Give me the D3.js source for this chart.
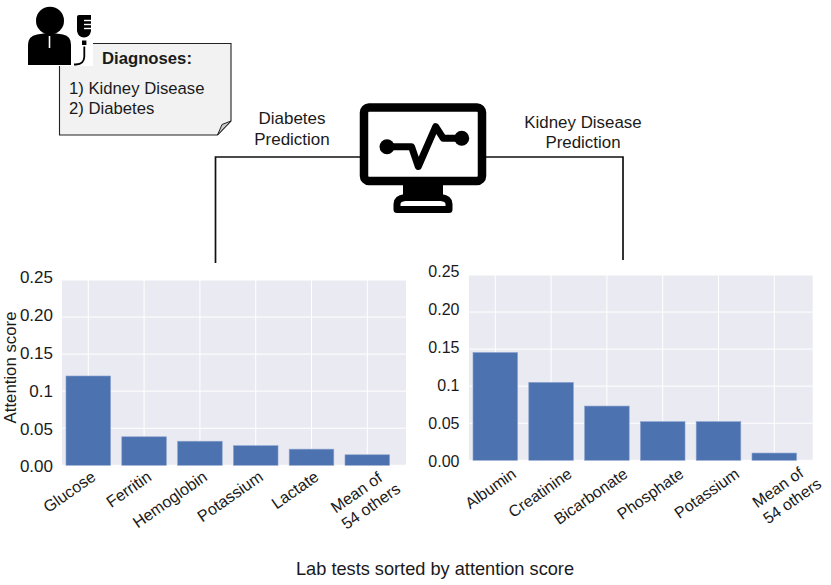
<!DOCTYPE html>
<html>
<head>
<meta charset="utf-8">
<script src="https://cdn.jsdelivr.net/npm/d3@7"></script>
<style>
body { margin: 0; background: #fff; }
svg { display: block; }
text { font-family: "Liberation Sans", Arial, sans-serif; fill: #1a1a1a; }
</style>
</head>
<body>
<svg width="831" height="585"></svg>
<script>
const tickValues = [0, 0.05, 0.1, 0.15, 0.2, 0.25];
const tickLabels = ['0.00', '0.05', '0.1', '0.15', '0.20', '0.25'];

const diabetesTests = ['Glucose', 'Ferritin', 'Hemoglobin', 'Potassium', 'Lactate', 'Mean of|54 others'];
const diabetesScores = [0.1205, 0.0385, 0.0325, 0.0265, 0.0218, 0.0142];

const kidneyTests = ['Albumin', 'Creatinine', 'Bicarbonate', 'Phosphate', 'Potassium', 'Mean of|54 others'];
const kidneyScores = [0.1455, 0.1052, 0.0732, 0.0522, 0.0522, 0.0098];

const svg = d3.select('svg');

// one bar panel, seaborn look
function drawPanel(opts, names, scores) {
	const x = d3.scaleBand()
		.domain(names)
		.range([opts.firstBand, opts.firstBand + opts.step * names.length])
		.paddingInner(0.2)
		.paddingOuter(0.1);
	const y = d3.scaleLinear().domain([0, 0.25]).range([opts.bottom, opts.top]);
	// the tick labels were spaced a bit wider than the grid in the original
	const yText = d3.scaleLinear().domain([0, 0.25]).range(opts.textRange);

	const g = svg.append('g');

	g.append('rect')
		.attr('x', opts.left)
		.attr('y', opts.top)
		.attr('width', opts.right - opts.left)
		.attr('height', opts.bottom - opts.top)
		.attr('fill', '#eaeaf2');

	g.selectAll('.hgrid')
		.data(tickValues)
		.enter()
		.append('line')
		.attr('x1', opts.left)
		.attr('x2', opts.right)
		.attr('y1', d => y(d))
		.attr('y2', d => y(d))
		.attr('stroke', '#fff')
		.attr('stroke-width', 1);

	g.selectAll('.vgrid')
		.data(names)
		.enter()
		.append('line')
		.attr('x1', d => x(d) + x.bandwidth() / 2)
		.attr('x2', d => x(d) + x.bandwidth() / 2)
		.attr('y1', opts.top)
		.attr('y2', opts.bottom)
		.attr('stroke', '#fff')
		.attr('stroke-width', 1);

	g.selectAll('.bar')
		.data(names)
		.enter()
		.append('rect')
		.attr('x', d => x(d))
		.attr('y', (d, i) => y(scores[i]))
		.attr('width', x.bandwidth())
		.attr('height', (d, i) => y(0) - y(scores[i]))
		.attr('fill', '#4c72b0')
		.attr('stroke', '#8fa6cf')
		.attr('stroke-width', 0.6);

	const yAxis = d3.axisLeft(y)
		.tickValues(tickValues)
		.tickFormat((d, i) => tickLabels[i])
		.tickSize(0)
		.tickPadding(opts.yPad);
	const ya = g.append('g')
		.attr('transform', `translate(${opts.left},0)`)
		.call(yAxis);
	ya.select('.domain').remove();
	ya.selectAll('text')
		.attr('font-size', opts.yFont)
		.attr('y', d => yText(d) - y(d))
		.attr('dy', '0.35em');

	// rotated names, last one wraps on two lines
	names.forEach(name => {
		const parts = name.split('|');
		const center = x(name) + x.bandwidth() / 2;
		const wrapped = parts.length > 1;
		const px = center + (wrapped ? opts.wrapDx : opts.labelDx);
		const py = opts.bottom + (wrapped ? opts.wrapDy : opts.labelDy);
		const t = g.append('text')
			.attr('transform', `translate(${px},${py}) rotate(-35)`)
			.attr('text-anchor', wrapped ? 'middle' : 'end')
			.attr('font-size', opts.xFont);
		parts.forEach((p, i) => {
			t.append('tspan')
				.attr('x', i ? 4 : 0)
				.attr('dy', i ? '1.2em' : 0)
				.text(p);
		});
	});
}

drawPanel({
	left: 62, right: 406, top: 280, bottom: 465.3,
	firstBand: 60.4, step: 55.8, textRange: [466, 276.7],
	yPad: 9, yFont: 17, xFont: 16.2,
	labelDx: 8.5, labelDy: 14, wrapDx: -7.7, wrapDy: 31.7
}, diabetesTests, diabetesScores);

drawPanel({
	left: 469, right: 812.7, top: 275, bottom: 460.3,
	firstBand: 467.4, step: 55.8, textRange: [460.7, 271],
	yPad: 9.5, yFont: 16, xFont: 16,
	labelDx: 22, labelDy: 16, wrapDx: 6.7, wrapDy: 31.7
}, kidneyTests, kidneyScores);

svg.append('text')
	.attr('transform', 'translate(10,367.5) rotate(-90)')
	.attr('text-anchor', 'middle')
	.attr('dy', '0.35em')
	.attr('font-size', 16.8)
	.text('Attention score');

svg.append('text')
	.attr('x', 435)
	.attr('y', 575)
	.attr('text-anchor', 'middle')
	.attr('font-size', 18.2)
	.text('Lab tests sorted by attention score');

// connectors from the monitor down to each panel
const line = d3.line();
[[[360, 157], [215.5, 157], [215.5, 263]], [[486, 157], [623, 157], [623, 260]]].forEach(pts => {
	svg.append('path')
		.attr('d', line(pts))
		.attr('fill', 'none')
		.attr('stroke', '#111')
		.attr('stroke-width', 1.7);
});

function label(lines, cx, y0, gap, size) {
	lines.forEach((s, i) => {
		svg.append('text')
			.attr('x', cx)
			.attr('y', y0 + i * gap)
			.attr('text-anchor', 'middle')
			.attr('font-size', size)
			.text(s);
	});
}
label(['Diabetes', 'Prediction'], 292, 124, 21, 17);
label(['Kidney Disease', 'Prediction'], 583, 128, 20, 16.9);

// monitor icon
const icon = svg.append('g');
icon.append('rect')
	.attr('x', 364).attr('y', 107.5).attr('width', 118).attr('height', 73.5).attr('rx', 5)
	.attr('fill', '#fff').attr('stroke', '#000').attr('stroke-width', 8.5);
icon.append('rect')
	.attr('x', 403).attr('y', 184).attr('width', 40).attr('height', 14)
	.attr('fill', '#000');
icon.append('path')
	.attr('d', 'M397 209.5 L397 204 Q397 198.5 405 197.5 L441 197.5 Q449 198.5 449 204 L449 209.5 Z')
	.attr('fill', '#fff').attr('stroke', '#000').attr('stroke-width', 7).attr('stroke-linejoin', 'round');
icon.append('path')
	.attr('d', line([[387, 146.7], [411.5, 146.7], [418.3, 166.5], [435.7, 126.7], [443.3, 138.3], [461.7, 138.3]]))
	.attr('fill', 'none').attr('stroke', '#000').attr('stroke-width', 7)
	.attr('stroke-linejoin', 'round').attr('stroke-linecap', 'round');
icon.append('circle').attr('cx', 387).attr('cy', 146.7).attr('r', 7.5).attr('fill', '#000');
icon.append('circle').attr('cx', 461.7).attr('cy', 138.3).attr('r', 7.5).attr('fill', '#000');

// note with folded corner
const note = svg.append('g');
note.append('path')
	.attr('d', 'M59.5 43.5 L231 43.5 L231 121 L217.5 135 L59.5 135 Z')
	.attr('fill', '#f2f2f2').attr('stroke', '#222').attr('stroke-width', 1.1);
note.append('path')
	.attr('d', 'M217.5 135 L222 124.5 L231 121 Z')
	.attr('fill', '#c9c9c9').attr('stroke', '#222').attr('stroke-width', 1);

// doctor icon sits on a white patch over the note corner
note.append('rect')
	.attr('x', 59).attr('y', 43).attr('width', 34).attr('height', 23).attr('fill', '#fff');
const doc = svg.append('g');
doc.append('circle').attr('cx', 50).attr('cy', 20.7).attr('r', 14).attr('fill', '#000');
doc.append('path')
	.attr('d', 'M28 65 L28 45 Q28 36 37 34.5 L47 33 L53 33 L63 34.5 Q71 36 71 45 L71 65 Z')
	.attr('fill', '#000');
doc.append('path')
	.attr('d', 'M49.5 36 L49.5 48')
	.attr('stroke', '#fff').attr('stroke-width', 1.6);
doc.append('path')
	.attr('d', 'M77 17 Q77 15 79 15 L91 15 L91 31 Q90 37 84 37.5 Q78 37 77 31 Z')
	.attr('fill', '#000');
d3.range(3).forEach(i => {
	doc.append('line')
		.attr('x1', 84).attr('x2', 91.5)
		.attr('y1', 20.5 + i * 4).attr('y2', 20.5 + i * 4)
		.attr('stroke', '#fff').attr('stroke-width', 1.4);
});
doc.append('rect').attr('x', 82).attr('y', 40.5).attr('width', 4.4).attr('height', 4.5).attr('fill', '#000');
doc.append('path')
	.attr('d', 'M84.3 46.5 L84.3 57 Q84 64 76 64.5 L74 64.5')
	.attr('fill', 'none').attr('stroke', '#000').attr('stroke-width', 1.8);

svg.append('text').attr('x', 102).attr('y', 64).attr('font-size', 16.7).attr('font-weight', 'bold').text('Diagnoses:');
svg.append('text').attr('x', 69).attr('y', 94).attr('font-size', 16.7).text('1) Kidney Disease');
svg.append('text').attr('x', 69).attr('y', 114).attr('font-size', 16.7).text('2) Diabetes');
</script>
</body>
</html>
